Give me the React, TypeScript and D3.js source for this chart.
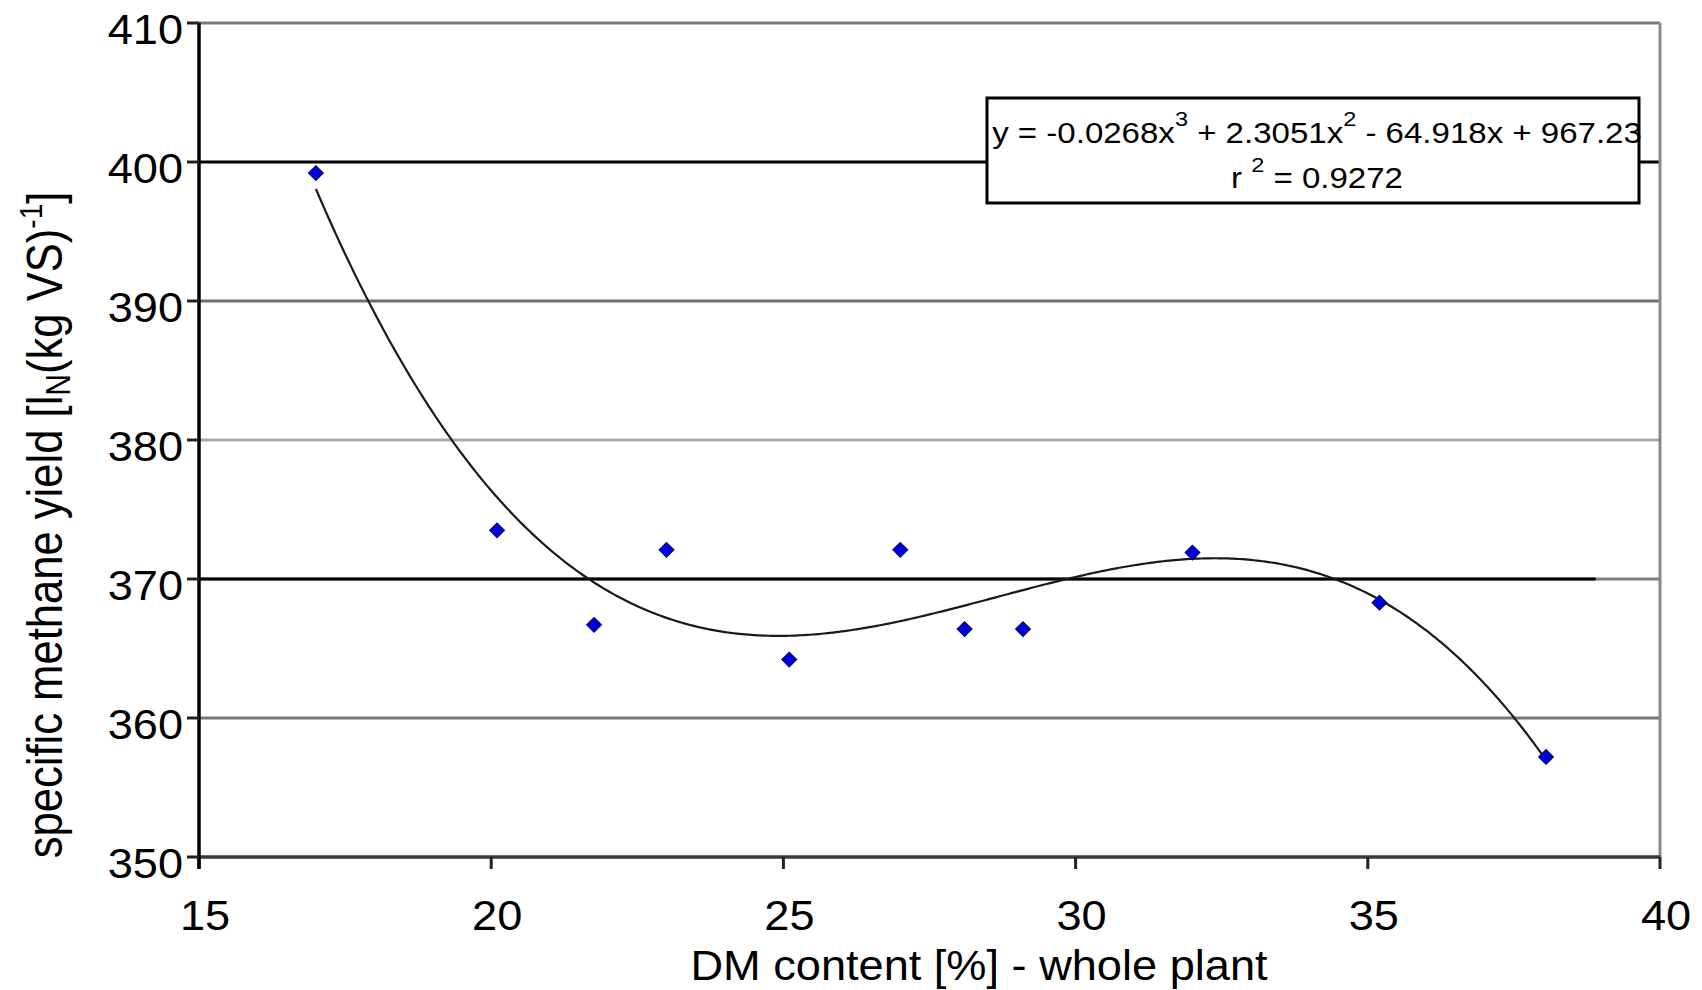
import React from "react";
import * as d3 from "d3";

const dmContent = [17.0, 20.1, 21.76, 23.0, 25.1, 27.0, 28.1, 29.1, 32.0, 35.2, 38.05];
const methaneYield = [399.2, 373.5, 366.7, 372.1, 364.2, 372.1, 366.4, 366.4, 371.9, 368.3, 357.2];
const xTicks = [15, 20, 25, 30, 35, 40];
const yTicks = [350, 360, 370, 380, 390, 400, 410];
const equationText = ["y = -0.0268x", "3", " + 2.3051x", "2", " - 64.918x + 967.23"];
const rSquaredText = ["r ", "2", " = 0.9272"];

const W = 1702;
const H = 990;
const FONT = "'Liberation Sans', Arial, sans-serif";

const gridColor: Record<number, string> = {
  410: "#7a7a7a",
  400: "#000000",
  390: "#6e6e6e",
  380: "#aaaaaa",
  370: "#000000",
  360: "#777777",
};

// least-squares cubic trendline (as the spreadsheet computes it) from the points
function fitCubic(xs: number[], ys: number[]): number[] {
  const n = 4;
  const A: number[][] = Array.from({ length: n }, () => new Array(n + 1).fill(0));
  for (let k = 0; k < xs.length; k++) {
    const pw = [1, xs[k], xs[k] ** 2, xs[k] ** 3];
    for (let i = 0; i < n; i++) {
      for (let j = 0; j < n; j++) A[i][j] += pw[i] * pw[j];
      A[i][n] += pw[i] * ys[k];
    }
  }
  for (let c = 0; c < n; c++) {
    let piv = c;
    for (let r = c + 1; r < n; r++) if (Math.abs(A[r][c]) > Math.abs(A[piv][c])) piv = r;
    [A[c], A[piv]] = [A[piv], A[c]];
    for (let r = 0; r < n; r++) {
      if (r === c) continue;
      const f = A[r][c] / A[c][c];
      for (let j = c; j <= n; j++) A[r][j] -= f * A[c][j];
    }
  }
  return A.map((row, i) => row[n] / row[i]); // [a0, a1, a2, a3]
}

export default function App() {
  const x = d3.scaleLinear().domain([15, 40]).range([199, 1660]);
  const y = d3.scaleLinear().domain([350, 410]).range([857, 23]);

  const coef = fitCubic(dmContent, methaneYield);
  const poly = (v: number) => coef[0] + coef[1] * v + coef[2] * v * v + coef[3] * v * v * v;
  const xMin = d3.min(dmContent) as number;
  const xMax = d3.max(dmContent) as number;
  const trendX = d3.range(xMin, xMax + 0.0001, 0.05);
  const line = d3
    .line<number>()
    .x((d) => x(d))
    .y((d) => y(poly(d)));

  const diamond = d3.symbol().type(d3.symbolSquare).size(105)();

  const points = dmContent.map((d, i) => ({ x: d, y: methaneYield[i] }));

  return (
    <svg
      width={W}
      height={H}
      style={{ position: "absolute", left: 0, top: 0, background: "#fff" }}
      fontFamily={FONT}
    >
      <rect x={0} y={0} width={W} height={H} fill="#fff" />
      {/* gridlines */}
      {yTicks
        .filter((t) => t !== 350)
        .map((t) => (
          <line
            key={"g" + t}
            x1={x(15)}
            x2={x(40)}
            y1={y(t)}
            y2={y(t)}
            stroke={t === 370 ? "#808080" : gridColor[t]}
            strokeWidth={3}
          />
        ))}
      <line x1={x(15)} x2={x(38.9)} y1={y(370)} y2={y(370)} stroke="#000" strokeWidth={3} />
      {/* right border */}
      <line x1={x(40)} x2={x(40)} y1={y(410)} y2={y(350)} stroke="#888" strokeWidth={3} />
      {/* x axis */}
      <line x1={x(15)} x2={x(40)} y1={y(350)} y2={y(350)} stroke="#3a3a3a" strokeWidth={3.5} />
      {xTicks.map((t) => (
        <line key={"xt" + t} x1={x(t)} x2={x(t)} y1={y(350)} y2={y(350) + 12} stroke="#222" strokeWidth={3} />
      ))}
      {/* y axis */}
      <line x1={x(15)} x2={x(15)} y1={y(410)} y2={y(350) + 12} stroke="#000" strokeWidth={3.5} />
      {yTicks.map((t) => (
        <line key={"yt" + t} x1={x(15) - 12} x2={x(15)} y1={y(t)} y2={y(t)} stroke="#222" strokeWidth={3} />
      ))}
      {/* y tick labels */}
      {yTicks.map((t) => (
        <text
          key={"yl" + t}
          transform={`translate(${x(15) - 16},${y(t) + 20.5}) scale(1.05,1)`}
          textAnchor="end"
          fontSize={43}
          fill="#000"
        >
          {t}
        </text>
      ))}
      {/* x tick labels */}
      {xTicks.map((t) => (
        <text
          key={"xl" + t}
          transform={`translate(${x(t) + 6},${930}) scale(1.05,1)`}
          textAnchor="middle"
          fontSize={43}
          fill="#000"
        >
          {t}
        </text>
      ))}
      {/* x title */}
      <text transform={`translate(979,980) scale(1.05,1)`} textAnchor="middle" fontSize={43} fill="#000">
        DM content [%] - whole plant
      </text>
      {/* y title */}
      <text
        transform={`translate(62,525) scale(1.15,1) rotate(-90)`}
        textAnchor="middle"
        fontSize={43.6}
        fill="#000"
      >
        <tspan>specific methane yield [l</tspan>
        <tspan fontSize={30} dy={7}>N</tspan>
        <tspan dy={-7}>(kg VS)</tspan>
        <tspan fontSize={28} dy={-17}>-1</tspan>
        <tspan dy={17}>]</tspan>
      </text>
      {/* trend curve */}
      <path d={line(trendX) || ""} fill="none" stroke="#1a1a1a" strokeWidth={2.2} />
      {/* points */}
      {points.map((p, i) => (
        <path
          key={"p" + i}
          d={diamond || ""}
          transform={`translate(${x(p.x)},${y(p.y)}) rotate(45)`}
          fill="#0000dd"
          stroke="#000080"
          strokeWidth={1.3}
        />
      ))}
      {/* equation box */}
      <rect x={987} y={98} width={652} height={105} fill="#fff" stroke="#000" strokeWidth={3} />
      <text transform={`translate(1317,143) scale(1.12,1)`} textAnchor="middle" fontSize={29.5} fill="#000">
        <tspan>{equationText[0]}</tspan>
        <tspan fontSize={21} dy={-17}>{equationText[1]}</tspan>
        <tspan dy={17}>{equationText[2]}</tspan>
        <tspan fontSize={21} dy={-17}>{equationText[3]}</tspan>
        <tspan dy={17}>{equationText[4]}</tspan>
      </text>
      <text transform={`translate(1317,188) scale(1.12,1)`} textAnchor="middle" fontSize={29.5} fill="#000">
        <tspan>{rSquaredText[0]}</tspan>
        <tspan fontSize={21} dy={-16}>{rSquaredText[1]}</tspan>
        <tspan dy={16}>{rSquaredText[2]}</tspan>
      </text>
    </svg>
  );
}
